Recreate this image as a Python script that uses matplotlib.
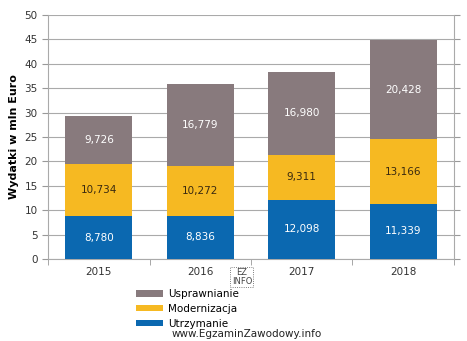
import matplotlib.pyplot as plt
import numpy as np

years = ["2015", "2016", "2017", "2018"]
utrzymanie = [8.780, 8.836, 12.098, 11.339]
modernizacja = [10.734, 10.272, 9.311, 13.166]
usprawnianie = [9.726, 16.779, 16.980, 20.428]

BLUE = "#0b68b0"
YELLOW = "#f6b922"
GRAY = "#887a7d"


def fmt(v):
    return f"{v:.3f}".replace(".", ",")


def main():
    fig = plt.figure(figsize=(4.67, 3.41), dpi=100)
    ax = fig.add_axes([0.103, 0.2405, 0.869, 0.7155])

    x = np.arange(len(years))
    width = 0.66
    base = np.zeros(len(years))
    series = [
        ("Utrzymanie", utrzymanie, BLUE, "white"),
        ("Modernizacja", modernizacja, YELLOW, "#3a2a10"),
        ("Usprawnianie", usprawnianie, GRAY, "white"),
    ]
    handles = {}
    for name, vals, color, tcolor in series:
        vals = np.array(vals)
        bars = ax.bar(x, vals, width, bottom=base, color=color, zorder=3, label=name)
        handles[name] = bars
        for xi, b, v in zip(x, base, vals):
            ax.text(xi, b + v / 2, fmt(v), ha="center", va="center",
                    color=tcolor, fontsize=7.5, zorder=4)
        base = base + vals

    ax.set_xlim(-0.5, len(years) - 0.5)
    ax.set_ylim(0, 50)
    ax.set_yticks(range(0, 51, 5))
    ax.set_xticks(x)
    ax.set_xticklabels(years)
    ax.set_xticks(np.arange(-0.5, len(years)), minor=True)
    ax.tick_params(axis="x", which="major", length=0, labelsize=7.5, colors="#333333", pad=6)
    ax.tick_params(axis="x", which="minor", length=4, color="#999999")
    ax.tick_params(axis="y", labelsize=7.5, colors="#333333", length=4, color="#999999",
                   right=True, direction="out")
    ax.yaxis.grid(True, color="#aaaaaa", linewidth=0.8, zorder=0)

    ax.spines["top"].set_visible(False)
    for side in ["left", "right", "bottom"]:
        ax.spines[side].set_color("#aaaaaa")
        ax.spines[side].set_linewidth(0.8)

    ax.set_ylabel("Wydatki w mln Euro", fontsize=8, fontweight="bold", labelpad=4)

    # legend below the plot, top entry first
    order = ["Usprawnianie", "Modernizacja", "Utrzymanie"]
    fig.legend([handles[n] for n in order], order, loc="upper left",
               bbox_to_anchor=(0.291, 0.152), frameon=False, fontsize=7.5,
               handlelength=2.6, handleheight=0.55, handletextpad=0.45,
               labelspacing=0.45, borderaxespad=0, borderpad=0)

    fig.text(0.518, 0.188, "EZ\nINFO", fontsize=6, ha="center", va="center",
             color="#444444", linespacing=0.9,
             bbox=dict(boxstyle="square,pad=0.15", fc="white", ec="#555555", ls=":", lw=0.6))
    fig.text(0.368, 0.006, "www.EgzaminZawodowy.info", fontsize=7.5,
             color="#222222", ha="left", va="bottom")

    fig.savefig("out.png", dpi=100)


if __name__ == "__main__":
    main()
